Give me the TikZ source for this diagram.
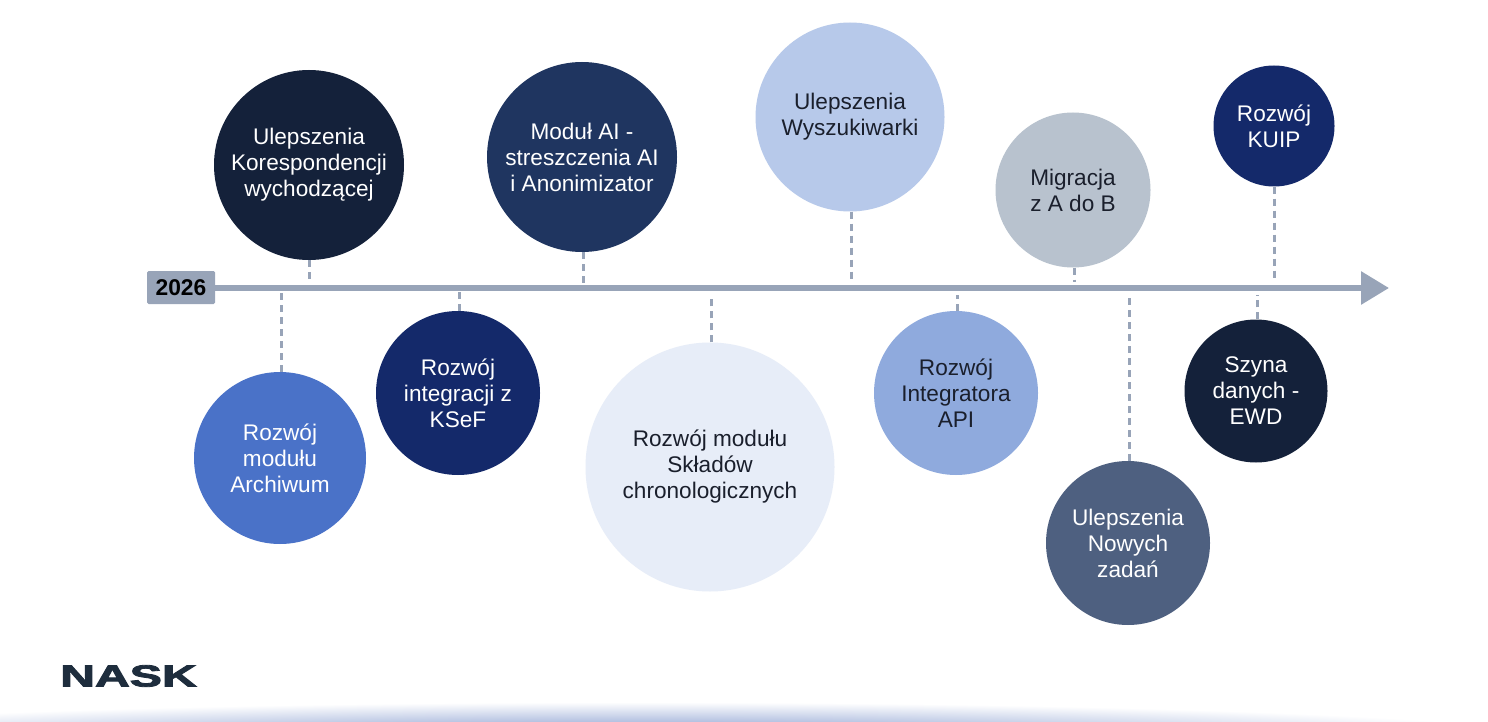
\documentclass[tikz,border=0pt]{standalone}
\usepackage{fontspec}
\setmainfont{Liberation Sans}
\newfontfamily\logofont[FakeBold=2.6]{Liberation Sans Bold}
\usetikzlibrary{arrows.meta}
\definecolor{axisc}{HTML}{98A4B8}
\definecolor{navyA}{HTML}{14213A}
\definecolor{blueA}{HTML}{4A72C8}
\definecolor{navyB}{HTML}{14296A}
\definecolor{navyC}{HTML}{1F3560}
\definecolor{paleA}{HTML}{E7EDF8}
\definecolor{paleB}{HTML}{B7C9EA}
\definecolor{paleC}{HTML}{8FAADD}
\definecolor{greyA}{HTML}{B8C2CE}
\definecolor{slateA}{HTML}{4E6080}
\definecolor{inkA}{HTML}{1A1F2C}
\definecolor{logoc}{HTML}{1E2D3D}
\definecolor{glowc}{HTML}{6C86C4}
\tikzset{
  x=1pt,y=-1pt,
  bubble/.style={circle,inner sep=0pt,align=center,font=\fontsize{22.6}{26}\selectfont,text=white},
  darktext/.style={text=inkA},
  tick/.style={draw=axisc,line width=3pt,dash pattern=on 7pt off 5pt},
}
\begin{document}
\begin{tikzpicture}
\useasboundingbox (0,0) rectangle (1488,722);
\begin{scope}
\clip (0,0) rectangle (1488,722);
\fill[white] (0,0) rectangle (1488,722);
\shade[inner color=glowc,outer color=white] (640,740) ellipse [x radius=920,y radius=38];
\end{scope}
\node[bubble,fill=navyA,minimum size=190pt] (a) at (309,165) {Ulepszenia\\Korespondencji\\wychodzącej};
\node[bubble,fill=blueA,minimum size=172pt] (b) at (280,458) {Rozwój\\modułu\\Archiwum};
\node[bubble,fill=navyB,minimum size=164pt] (c) at (458,393) {Rozwój\\integracji z\\KSeF};
\node[bubble,fill=navyC,minimum size=190pt] (d) at (582,157) {Moduł AI -\\streszczenia AI\\i Anonimizator};
\node[bubble,darktext,fill=paleA,minimum size=249pt] (e) at (710,467) {Rozwój modułu\\Składów\\chronologicznych};
\node[bubble,darktext,fill=paleB,minimum size=189pt] (f) at (850,117) {Ulepszenia\\Wyszukiwarki};
\node[bubble,darktext,fill=paleC,minimum size=164pt] (g) at (956,393) {Rozwój\\Integratora\\API};
\node[bubble,darktext,fill=greyA,minimum size=155pt] (h) at (1073,190) {Migracja\\z A do B};
\node[bubble,fill=slateA,minimum size=164pt] (i) at (1128,543) {Ulepszenia\\Nowych\\zadań};
\node[bubble,fill=navyB,minimum size=121pt] (j) at (1274,126) {Rozwój\\KUIP};
\node[bubble,fill=navyA,minimum size=143pt] (k) at (1256,391) {Szyna\\danych -\\EWD};
\node[fill=axisc,rounded corners=1.5pt,minimum width=68pt,minimum height=33pt,inner sep=0pt,font=\fontsize{22.8}{26}\selectfont\bfseries,text=black] (year) at (181,287.5) {2026};
\coordinate (tip) at (1389,288);
\draw[axisc,line width=6pt,-{Triangle[length=28pt,width=32pt]}] (year.east |- tip) -- (tip);
\coordinate (pa) at (309,282);
\coordinate (pb) at (281,291);
\coordinate (pc) at (459,291);
\coordinate (pd) at (583,287);
\coordinate (pe) at (711,295);
\coordinate (pf) at (851,281);
\coordinate (pg) at (957,295);
\coordinate (ph) at (1074,282);
\coordinate (pi) at (1129,295);
\coordinate (pj) at (1274,282);
\coordinate (pk) at (1257,295);
\draw[tick] (pa |- a.south) -- (pa);
\draw[tick] (pb |- b.north) -- (pb);
\draw[tick] (pc |- c.north) -- (pc);
\draw[tick] (pd |- d.south) -- (pd);
\draw[tick] (pe |- e.north) -- (pe);
\draw[tick] (pf |- f.south) -- (pf);
\draw[tick] (pg |- g.north) -- (pg);
\draw[tick] (ph |- h.south) -- (ph);
\draw[tick] (pi |- i.north) -- (pi);
\draw[tick] (pj |- j.south) -- (pj);
\draw[tick] (pk |- k.north) -- (pk);
\node[inner sep=0pt,text=logoc,font=\fontsize{30.5}{31}\logofont] (logo) at (128.5,676) {\scalebox{1.58}[1]{NASK}};
\end{tikzpicture}
\end{document}
